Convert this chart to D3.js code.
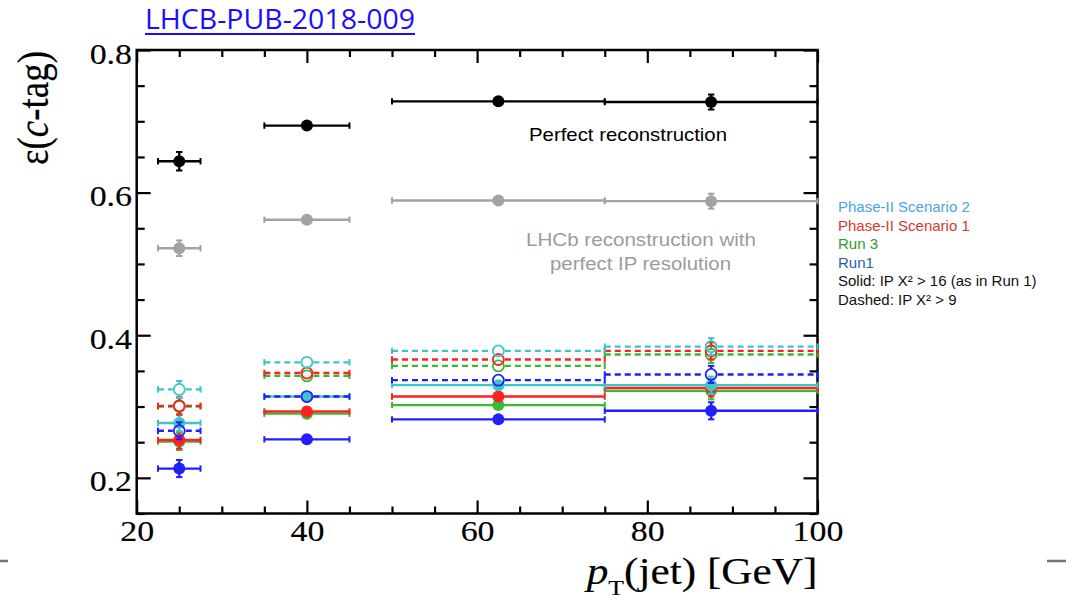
<!DOCTYPE html>
<html>
<head>
<meta charset="utf-8">
<script src="https://cdn.jsdelivr.net/npm/d3@7"></script>
<style>
  html, body { margin: 0; padding: 0; background: #fff; }
  svg { display: block; }
</style>
</head>
<body>
<svg id="chart" width="1066" height="601"></svg>
<script>
// pT(jet) bins [GeV]
const binCenter = [25, 40, 62.5, 87.5];
const binLow    = [22.5, 35, 50, 75];
const binHigh   = [27.5, 45, 75, 100];

// c-tagging efficiency per bin
const perfectReco    = [0.644, 0.694, 0.728, 0.727];
const perfectRecoErr = [0.013, 0.004, 0.003, 0.0105];
const perfectIP      = [0.522, 0.562, 0.589, 0.588];
const perfectIPErr   = [0.011, 0.004, 0.003, 0.0105];

const run1Solid      = [0.213, 0.254, 0.282, 0.294];
const run1Dashed     = [0.266, 0.314, 0.337, 0.345];
const run3Solid      = [0.251, 0.290, 0.302, 0.322];
const run3Dashed     = [0.300, 0.343, 0.357, 0.373];
const phase2S1Solid  = [0.253, 0.293, 0.314, 0.326];
const phase2S1Dashed = [0.301, 0.347, 0.366, 0.378];
const phase2S2Solid  = [0.277, 0.314, 0.330, 0.330];
const phase2S2Dashed = [0.324, 0.362, 0.378, 0.384];
const scenarioErr    = [0.012, 0.004, 0.003, 0.012];

// axis ticks
const xMajorTicks = [20, 40, 60, 80, 100];
const xMinorTicks = [25, 30, 35, 45, 50, 55, 65, 70, 75, 85, 90, 95];
const yMajorTicks = [0.2, 0.4, 0.6, 0.8];
const yMinorTicks = [0.15, 0.25, 0.3, 0.35, 0.45, 0.5, 0.55, 0.65, 0.7, 0.75];

// legend text
const legendLabels = [
  "Phase-II Scenario 2",
  "Phase-II Scenario 1",
  "Run 3",
  "Run1",
  "Solid: IP X\u00B2 > 16 (as in Run 1)",
  "Dashed: IP X\u00B2 > 9"
];
const legendColors = ["#4aa3ea", "#d9382c", "#2e9a2e", "#2c5ea8", "#111", "#111"];

const svg = d3.select("#chart");
const SX = 1.17; // horizontal glyph stretch of the plot's own lettering

const frame = { left: 136.7, right: 817.5, top: 50, bottom: 513.5 };
const x = d3.scaleLinear().domain([20, 100]).range([frame.left, frame.right]);
const y = d3.scaleLinear().domain([0.15, 0.8]).range([frame.bottom, frame.top]);

// ---- axes: ROOT-style ticks pointing inward on all four sides ----
const axisFont = "'Liberation Serif', 'Times New Roman', serif";

function styleAxis(g) {
  g.select(".domain").remove();
  g.selectAll(".tick line").attr("stroke", "#000").attr("stroke-width", 2.2);
}

// bottom
svg.append("g").attr("transform", `translate(0,${frame.bottom})`)
  .call(d3.axisBottom(x).tickValues(xMinorTicks).tickSize(-7).tickFormat(""))
  .call(styleAxis);
const bottomMajor = svg.append("g").attr("transform", `translate(0,${frame.bottom})`)
  .call(d3.axisBottom(x).tickValues(xMajorTicks).tickSize(-13).tickPadding(7).tickFormat(d3.format("d")))
  .call(styleAxis);
bottomMajor.selectAll("text")
  .attr("font-family", axisFont).attr("font-size", 29).attr("fill", "#000")
  .attr("stroke", "#000").attr("stroke-width", 0.15)
  .attr("transform", `scale(${SX},1)`);

// top
svg.append("g").attr("transform", `translate(0,${frame.top})`)
  .call(d3.axisTop(x).tickValues(xMinorTicks).tickSize(-7).tickFormat(""))
  .call(styleAxis);
svg.append("g").attr("transform", `translate(0,${frame.top})`)
  .call(d3.axisTop(x).tickValues(xMajorTicks).tickSize(-13).tickFormat(""))
  .call(styleAxis);

// left
svg.append("g").attr("transform", `translate(${frame.left},0)`)
  .call(d3.axisLeft(y).tickValues(yMinorTicks).tickSize(-8).tickFormat(""))
  .call(styleAxis);
const leftMajor = svg.append("g").attr("transform", `translate(${frame.left},0)`)
  .call(d3.axisLeft(y).tickValues(yMajorTicks).tickSize(-14).tickPadding(4).tickFormat(d3.format(".1f")))
  .call(styleAxis);
leftMajor.selectAll("text")
  .attr("font-family", axisFont).attr("font-size", 29).attr("fill", "#000")
  .attr("stroke", "#000").attr("stroke-width", 0.15)
  .attr("dy", "0.45em")
  .attr("transform", `scale(${SX},1)`);

// right
svg.append("g").attr("transform", `translate(${frame.right},0)`)
  .call(d3.axisRight(y).tickValues(yMinorTicks).tickSize(-8).tickFormat(""))
  .call(styleAxis);
svg.append("g").attr("transform", `translate(${frame.right},0)`)
  .call(d3.axisRight(y).tickValues(yMajorTicks).tickSize(-14).tickFormat(""))
  .call(styleAxis);

// frame
svg.append("rect")
  .attr("x", frame.left).attr("y", frame.top)
  .attr("width", frame.right - frame.left).attr("height", frame.bottom - frame.top)
  .attr("fill", "none").attr("stroke", "#000").attr("stroke-width", 2.5);

// ---- data series ----
const series = [
  { v: perfectIP,      e: perfectIPErr,   color: "#a3a3a3", dashed: false, open: false },
  { v: perfectReco,    e: perfectRecoErr, color: "#000000", dashed: false, open: false },
  { v: run1Solid,      e: scenarioErr,    color: "#1f1fff", dashed: false, open: false },
  { v: run3Solid,      e: scenarioErr,    color: "#35bb35", dashed: false, open: false },
  { v: phase2S1Solid,  e: scenarioErr,    color: "#ff2020", dashed: false, open: false },
  { v: phase2S2Solid,  e: scenarioErr,    color: "#3cc6c6", dashed: false, open: false },
  { v: run1Dashed,     e: scenarioErr,    color: "#1f1fff", dashed: true,  open: true },
  { v: run3Dashed,     e: scenarioErr,    color: "#35bb35", dashed: true,  open: true },
  { v: phase2S1Dashed, e: scenarioErr,    color: "#ff2020", dashed: true,  open: true },
  { v: phase2S2Dashed, e: scenarioErr,    color: "#3cc6c6", dashed: true,  open: true }
];

const R = 5.5;      // marker radius
const CAP = 3.2;    // half length of error-bar end caps
const plot = svg.append("g");

series.forEach(s => {
  const g = plot.append("g");
  const dash = s.dashed ? "6,4" : null;
  binCenter.forEach((c, i) => {
    const cx = x(c), cy = y(s.v[i]);
    const x0 = x(binLow[i]), x1 = x(binHigh[i]);
    const gap = s.open ? R + 1 : 0;
    // horizontal bin-width bar
    const segs = s.open ? [[x0, cx - gap], [cx + gap, x1]] : [[x0, x1]];
    segs.forEach(([a, b]) => {
      g.append("line").attr("x1", a).attr("x2", b).attr("y1", cy).attr("y2", cy)
        .attr("stroke", s.color).attr("stroke-width", 2.4).attr("stroke-dasharray", dash);
    });
    // end caps on the bin-width bar
    [x0, x1].forEach(xe => {
      g.append("line").attr("x1", xe).attr("x2", xe).attr("y1", cy - CAP).attr("y2", cy + CAP)
        .attr("stroke", s.color).attr("stroke-width", 2);
    });
    // vertical statistical error, drawn outside the marker only
    const yt = y(s.v[i] + s.e[i]), yb = y(s.v[i] - s.e[i]);
    if (cy - yt > R + 1) {
      [[yt, cy - R], [cy + R, yb]].forEach(([a, b]) => {
        g.append("line").attr("x1", cx).attr("x2", cx).attr("y1", a).attr("y2", b)
          .attr("stroke", s.color).attr("stroke-width", 2.4);
      });
      [yt, yb].forEach(ye => {
        g.append("line").attr("x1", cx - CAP).attr("x2", cx + CAP).attr("y1", ye).attr("y2", ye)
          .attr("stroke", s.color).attr("stroke-width", 2);
      });
    }
    // marker
    g.append("circle").attr("cx", cx).attr("cy", cy)
      .attr("r", s.open ? R : R + 0.5)
      .attr("fill", s.open ? "none" : s.color)
      .attr("stroke", s.color).attr("stroke-width", s.open ? 1.8 : 0);
  });
});

// ---- annotations ----
const sansFont = "'Liberation Sans', Arial, Helvetica, sans-serif";
svg.append("text").attr("x", 529).attr("y", 141)
  .attr("font-family", sansFont).attr("font-size", 18.5).attr("fill", "#000")
  .attr("textLength", 198).attr("lengthAdjust", "spacingAndGlyphs")
  .text("Perfect reconstruction");
svg.append("text").attr("x", 526).attr("y", 246)
  .attr("font-family", sansFont).attr("font-size", 18.5).attr("fill", "#9c9c9c")
  .attr("textLength", 230).attr("lengthAdjust", "spacingAndGlyphs")
  .text("LHCb reconstruction with");
svg.append("text").attr("x", 550).attr("y", 270)
  .attr("font-family", sansFont).attr("font-size", 18.5).attr("fill", "#9c9c9c")
  .attr("textLength", 181).attr("lengthAdjust", "spacingAndGlyphs")
  .text("perfect IP resolution");

// ---- legend ----
svg.append("g").selectAll("text").data(legendLabels).join("text")
  .attr("x", 838).attr("y", (d, i) => 212 + i * 18.5)
  .attr("font-family", sansFont).attr("font-size", 15)
  .attr("fill", (d, i) => legendColors[i])
  .text(d => d);

// ---- axis titles ----
const yTitle = svg.append("text")
  .attr("transform", `translate(48,108) scale(${SX},1) rotate(-90)`)
  .attr("text-anchor", "middle")
  .attr("font-family", axisFont).attr("font-size", 37).attr("fill", "#000")
  .attr("stroke", "#000").attr("stroke-width", 0.15);
yTitle.append("tspan").text("\u03B5(");
yTitle.append("tspan").attr("font-style", "italic").text("c");
yTitle.append("tspan").text("-tag)");

const xTitle = svg.append("text")
  .attr("transform", `translate(${frame.right},584) scale(${SX},1)`)
  .attr("text-anchor", "end")
  .attr("font-family", axisFont).attr("font-size", 37).attr("fill", "#000")
  .attr("stroke", "#000").attr("stroke-width", 0.15);
xTitle.append("tspan").attr("font-style", "italic").text("p");
xTitle.append("tspan").attr("font-size", 22).attr("dy", 11).text("T");
xTitle.append("tspan").attr("dy", -11).text("(jet) [GeV]");

// ---- document reference link ----
svg.append("text").attr("x", 145).attr("y", 29)
  .attr("font-family", "'Open Sans', 'Noto Sans', sans-serif").attr("font-size", 27)
  .attr("fill", "#1a0dff")
  .attr("textLength", 270).attr("lengthAdjust", "spacingAndGlyphs")
  .text("LHCB-PUB-2018-009");
svg.append("line").attr("x1", 145).attr("x2", 415).attr("y1", 34).attr("y2", 34)
  .attr("stroke", "#1a0dff").attr("stroke-width", 2);

// slide edge rules
svg.append("line").attr("x1", 0).attr("x2", 8).attr("y1", 561).attr("y2", 561)
  .attr("stroke", "#777").attr("stroke-width", 2.5);
svg.append("line").attr("x1", 1047).attr("x2", 1066).attr("y1", 561).attr("y2", 561)
  .attr("stroke", "#777").attr("stroke-width", 2.5);
</script>
</body>
</html>
